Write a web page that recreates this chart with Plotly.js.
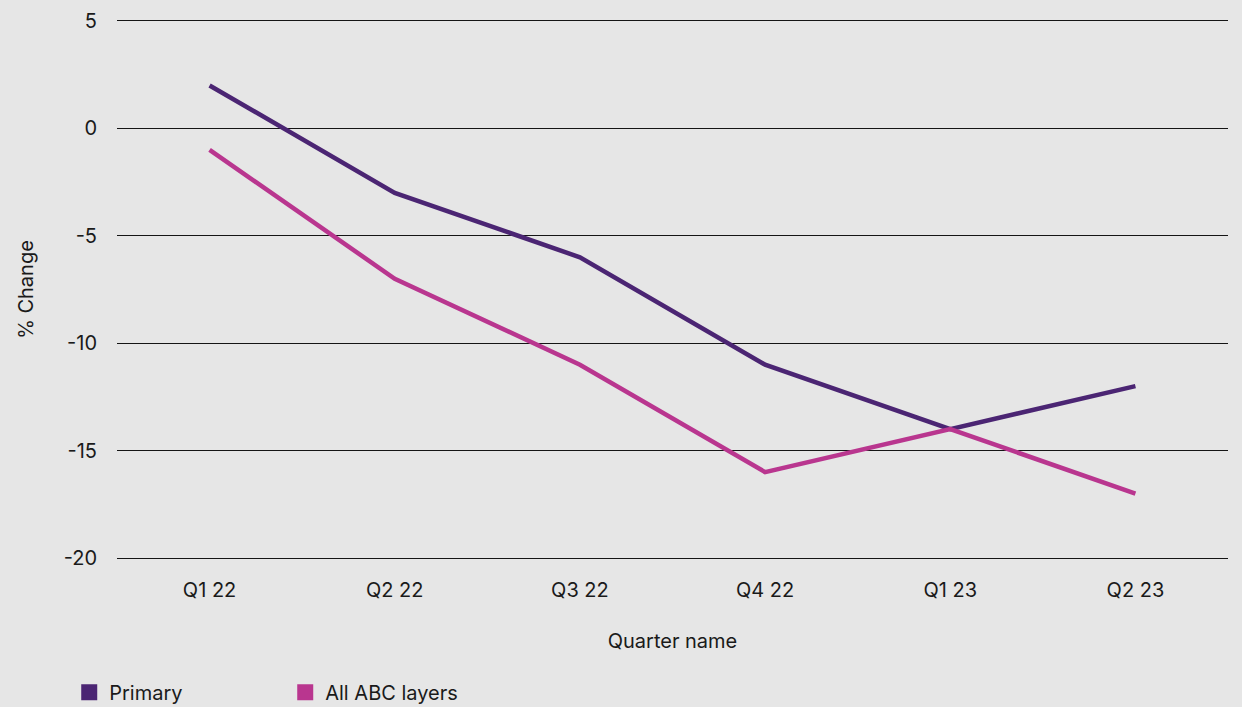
<!DOCTYPE html>
<html><head><meta charset="utf-8">
<script src="https://cdn.plot.ly/plotly-3.0.1.min.js"></script>
<style>html,body{margin:0;padding:0;background:#e6e6e6;}#chart{width:1242px;height:707px;}</style>
</head><body><div id="chart"></div>
<script>
const quarters = ["Q1 22","Q2 22","Q3 22","Q4 22","Q1 23","Q2 23"];
const primary = [2,-3,-6,-11,-14,-12];
const allAbc = [-1,-7,-11,-16,-14,-17];
const seriesNames = ["Primary","All ABC layers"];
const yTicks = [5,0,-5,-10,-15,-20];
const colors = ["#4b2573","#b9368f"];
const font = "Inter, 'Open Sans', sans-serif";

const traces = [
  {x:quarters,y:primary,type:"scatter",mode:"lines",line:{color:colors[0],width:4.5},showlegend:false,hoverinfo:"skip"},
  {x:quarters,y:allAbc,type:"scatter",mode:"lines",line:{color:colors[1],width:4.5},showlegend:false,hoverinfo:"skip"},
  {x:[null],y:[null],type:"scatter",mode:"markers",name:seriesNames[0],marker:{symbol:"square",size:17,color:colors[0]}},
  {x:[null],y:[null],type:"scatter",mode:"markers",name:seriesNames[1],marker:{symbol:"square",size:17,color:colors[1]}}
];
const layout = {
  width:1242,height:707,
  paper_bgcolor:"#e6e6e6",plot_bgcolor:"#e6e6e6",
  margin:{l:117,r:14,t:21,b:149,autoexpand:false},
  font:{family:font,size:20,color:"#1a1a1a"},
  xaxis:{type:"category",range:[-0.5,5.5],showgrid:false,zeroline:false,
    showline:true,mirror:true,linecolor:"#151515",linewidth:1,
    ticks:"outside",ticklen:14,tickcolor:"rgba(0,0,0,0)",tickfont:{size:20},
    title:{text:"Quarter name",font:{size:20},standoff:32},automargin:false},
  yaxis:{range:[-20,5],tickvals:yTicks,ticktext:yTicks.map(String),
    showgrid:true,gridcolor:"#151515",gridwidth:1,zeroline:false,showline:false,
    ticks:"outside",ticklen:15,tickcolor:"rgba(0,0,0,0)",tickfont:{size:20},
    title:{text:"% Change",font:{size:20},standoff:24},automargin:false},
  showlegend:true,
  legend:{orientation:"h",x:-0.043,xanchor:"left",y:-0.25,yanchor:"middle",
    font:{size:20},entrywidth:171,entrywidthmode:"pixels",itemwidth:30,bgcolor:"rgba(0,0,0,0)"}
};
Plotly.newPlot("chart",traces,layout,{displayModeBar:false,staticPlot:true});
</script></body></html>
